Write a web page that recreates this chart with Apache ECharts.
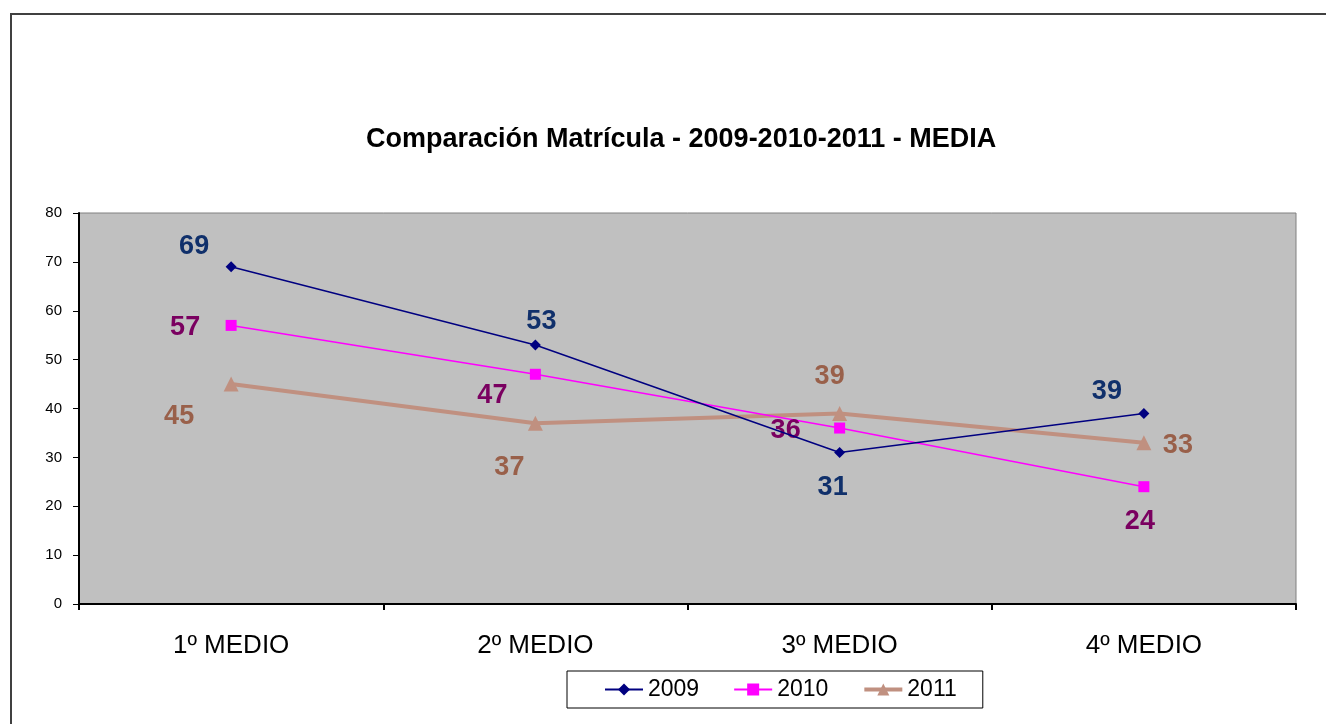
<!DOCTYPE html>
<html>
<head>
<meta charset="utf-8">
<script src="https://cdn.jsdelivr.net/npm/echarts@6/dist/echarts.min.js"></script>
<style>
html, body { margin: 0; padding: 0; background: #fff; }
#main { width: 1326px; height: 724px; }
</style>
</head>
<body>
<div id="main"></div>
<script>
var categories = ['1º MEDIO', '2º MEDIO', '3º MEDIO', '4º MEDIO'];
var seriesNames = ['2009', '2010', '2011'];
var values2009 = [69, 53, 31, 39];
var values2010 = [57, 47, 36, 24];
var values2011 = [45, 37, 39, 33];

// where each value label sits relative to its point (px)
var offsets2009 = [[-37, -20], [6, -23], [-7, 35], [-37, -22]];
var offsets2010 = [[-46, 2], [-43, 21], [-54, 2], [-4, 35]];
var offsets2011 = [[-52, 32], [-26, 44], [-10, -37], [34, 3]];

var myChart = echarts.init(document.getElementById('main'));

function withLabels(values, offsets) {
	return values.map(function (v, i) {
		return { value: v, label: { offset: offsets[i] } };
	});
}

function labelStyle(color) {
	return {
		show: true,
		position: 'inside',
		color: color,
		fontFamily: 'Liberation Sans, Arial, sans-serif',
		fontWeight: 'bold',
		fontSize: 27
	};
}

var option = {
	animation: false,
	backgroundColor: '#fff',
	title: {
		text: 'Comparación Matrícula - 2009-2010-2011 - MEDIA',
		left: 361,
		top: 121,
		textStyle: {
			fontFamily: 'Liberation Sans, Arial, sans-serif',
			fontWeight: 'bold',
			fontSize: 27,
			color: '#000'
		}
	},
	graphic: [{
		type: 'rect',
		shape: { x: 11, y: 14, width: 1400, height: 800 },
		style: { fill: null, stroke: '#404040', lineWidth: 2 },
		silent: true
	}],
	legend: {
		data: [
			{ name: seriesNames[0] },
			{ name: seriesNames[1] },
			{ name: seriesNames[2], lineStyle: { width: 4 } }
		],
		left: 567,
		top: 671,
		padding: [7, 26, 7, 37],
		itemGap: 34,
		itemWidth: 38,
		itemHeight: 15,
		borderColor: '#000',
		borderWidth: 1,
		textStyle: {
			fontFamily: 'Liberation Sans, Arial, sans-serif',
			fontSize: 23,
			color: '#000'
		}
	},
	grid: {
		left: 79,
		right: 30,
		top: 213,
		bottom: 120,
		show: true,
		backgroundColor: '#C0C0C0',
		borderColor: '#808080',
		borderWidth: 1
	},
	xAxis: {
		type: 'category',
		data: categories,
		boundaryGap: true,
		axisLine: { lineStyle: { color: '#000', width: 2 } },
		axisTick: { show: true, length: 6, lineStyle: { color: '#000', width: 2 } },
		axisLabel: {
			margin: 29,
			fontFamily: 'Liberation Sans, Arial, sans-serif',
			fontSize: 26,
			color: '#000'
		},
		splitLine: { show: false }
	},
	yAxis: {
		type: 'value',
		min: 0,
		max: 80,
		interval: 10,
		axisLine: { show: true, lineStyle: { color: '#000', width: 2 } },
		axisTick: { show: true, length: 6, lineStyle: { color: '#000' } },
		axisLabel: {
			margin: 17,
			fontFamily: 'Liberation Sans, Arial, sans-serif',
			fontSize: 15,
			color: '#000'
		},
		splitLine: { show: false }
	},
	series: [
		{
			name: '2009',
			type: 'line',
			data: withLabels(values2009, offsets2009),
			symbol: 'diamond',
			symbolSize: 11,
			itemStyle: { color: '#000080' },
			lineStyle: { color: '#000080', width: 1.5 },
			label: labelStyle('#10306B'),
			z: 4
		},
		{
			name: '2010',
			type: 'line',
			data: withLabels(values2010, offsets2010),
			symbol: 'rect',
			symbolSize: 11,
			itemStyle: { color: '#FF00FF' },
			lineStyle: { color: '#FF00FF', width: 1.5 },
			label: labelStyle('#7A0060'),
			z: 3
		},
		{
			name: '2011',
			type: 'line',
			data: withLabels(values2011, offsets2011),
			symbol: 'triangle',
			symbolSize: 15,
			itemStyle: { color: '#C09080' },
			lineStyle: { color: '#C09080', width: 4 },
			label: labelStyle('#99604A'),
			z: 2
		}
	]
};

myChart.setOption(option);
</script>
</body>
</html>
